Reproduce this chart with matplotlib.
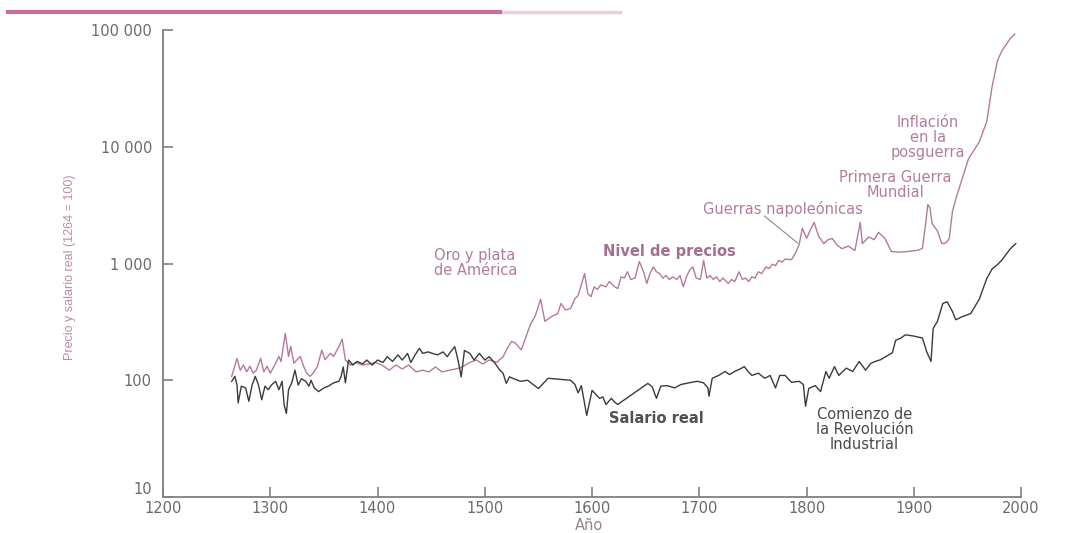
#!/usr/bin/env python3
"""Precio y salario real en Inglaterra, 1264-2000 (escala logaritmica)."""
import matplotlib
matplotlib.use("Agg")
import matplotlib.pyplot as plt
from matplotlib.lines import Line2D
from matplotlib.ticker import FixedLocator, NullLocator

# nivel de precios (1264 = 100)
price_years = [
    1264, 1269, 1272, 1275, 1278, 1281, 1284, 1287, 1291, 1294, 1297, 1300, 1305, 1308,
    1310, 1314, 1317, 1319, 1322, 1325, 1328, 1331, 1334, 1337, 1340, 1344, 1348, 1351,
    1356, 1359, 1364, 1367, 1370, 1375, 1380, 1386, 1392, 1398, 1404, 1411, 1417, 1423,
    1429, 1436, 1442, 1448, 1454, 1460, 1467, 1473, 1479, 1486, 1492, 1498, 1504, 1511,
    1517, 1521, 1525, 1528, 1534, 1540, 1543, 1547, 1552, 1556, 1562, 1568, 1571, 1575,
    1580, 1584, 1587, 1593, 1596, 1599, 1602, 1605, 1608, 1613, 1616, 1621, 1624, 1627,
    1630, 1633, 1636, 1640, 1644, 1648, 1651, 1654, 1657, 1660, 1663, 1666, 1669, 1672,
    1675, 1679, 1682, 1685, 1688, 1691, 1694, 1697, 1701, 1704, 1707, 1710, 1713, 1716,
    1719, 1722, 1727, 1730, 1733, 1737, 1740, 1743, 1746, 1749, 1752, 1755, 1758, 1762,
    1765, 1768, 1771, 1774, 1777, 1780, 1786, 1790, 1793, 1796, 1800, 1803, 1807, 1811,
    1816, 1820, 1824, 1828, 1833, 1839, 1845, 1850, 1852, 1858, 1863, 1867, 1873, 1879,
    1886, 1895, 1904, 1908, 1911, 1913, 1915, 1917, 1922, 1926, 1930, 1933, 1936, 1940,
    1945, 1951, 1961, 1968, 1973, 1978, 1982, 1990, 1994,
]
price_vals = [
    108, 154, 122, 135, 118, 132, 115, 122, 154, 118, 132, 115, 140, 160,
    145, 252, 160, 195, 140, 150, 160, 132, 115, 108, 115, 132, 181, 150,
    170, 160, 195, 225, 149, 135, 142, 135, 138, 142, 135, 122, 135, 125,
    135, 118, 122, 118, 130, 118, 122, 125, 130, 142, 149, 138, 149, 142,
    159, 188, 215, 210, 182, 260, 307, 355, 495, 320, 350, 373, 455, 400,
    412, 500, 532, 820, 555, 520, 632, 600, 655, 632, 700, 632, 610, 770,
    750, 850, 730, 750, 1040, 850, 675, 820, 935, 850, 820, 750, 790, 730,
    770, 730, 790, 632, 770, 880, 935, 750, 730, 1065, 750, 790, 730, 770,
    700, 750, 675, 730, 700, 850, 730, 750, 700, 770, 750, 850, 820, 935,
    905, 985, 960, 1065, 1030, 1090, 1080, 1250, 1450, 2000, 1640, 1900, 2250, 1730,
    1480, 1600, 1640, 1450, 1340, 1410, 1290, 2250, 1480, 1690, 1600, 1850, 1640, 1270,
    1250, 1270, 1300, 1350, 2200, 3200, 3000, 2200, 1900, 1480, 1500, 1640, 2800, 3800,
    5300, 7900, 11000, 16500, 33000, 55000, 66000, 85000, 92000,
]

# salario real (1264 = 100)
wage_years = [
    1264, 1267, 1269, 1270, 1273, 1277, 1280, 1283, 1286, 1289, 1292, 1295, 1298, 1301,
    1305, 1308, 1311, 1313, 1315, 1317, 1320, 1323, 1326, 1329, 1333, 1336, 1338, 1341,
    1345, 1350, 1354, 1359, 1364, 1366, 1368, 1370, 1373, 1377, 1381, 1386, 1390, 1395,
    1400, 1405, 1409, 1414, 1419, 1423, 1428, 1431, 1435, 1439, 1442, 1447, 1451, 1456,
    1461, 1465, 1468, 1472, 1475, 1478, 1481, 1486, 1490, 1495, 1500, 1504, 1509, 1514,
    1517, 1520, 1523, 1526, 1533, 1540, 1545, 1550, 1555, 1559, 1570, 1580, 1584, 1587,
    1590, 1595, 1600, 1604, 1607, 1610, 1613, 1618, 1621, 1624, 1627, 1652, 1656, 1660,
    1664, 1670, 1677, 1683, 1690, 1698, 1704, 1708, 1709, 1712, 1718, 1724, 1728, 1733,
    1738, 1742, 1745, 1749, 1755, 1761, 1766, 1771, 1775, 1780, 1786, 1793, 1797, 1799,
    1802, 1808, 1813, 1818, 1821, 1826, 1830, 1837, 1843, 1849, 1855, 1860, 1864, 1869,
    1874, 1880, 1883, 1888, 1892, 1899, 1908, 1912, 1916, 1918, 1922, 1927, 1931, 1936,
    1939, 1945, 1953, 1961, 1968, 1973, 1978, 1982, 1990, 1995,
]
wage_vals = [
    98, 108, 91, 64, 89, 86, 66, 91, 108, 91, 68, 89, 83, 91,
    98, 83, 98, 61, 52, 83, 95, 122, 91, 103, 98, 89, 100, 86,
    80, 86, 89, 95, 98, 108, 130, 95, 149, 135, 145, 138, 149, 135,
    149, 142, 159, 145, 165, 149, 170, 142, 165, 188, 170, 175, 170, 165,
    175, 159, 175, 194, 149, 107, 180, 170, 149, 170, 149, 159, 142, 122,
    115, 94, 107, 104, 98, 100, 92, 85, 95, 104, 102, 100, 92, 78,
    90, 50, 82, 75, 70, 72, 62, 70, 65, 62, 65, 94, 88, 70,
    89, 90, 86, 92, 95, 98, 95, 86, 73, 104, 110, 119, 112, 119,
    125, 131, 120, 110, 115, 104, 110, 86, 110, 110, 96, 98, 92, 60,
    85, 90, 80, 119, 104, 131, 110, 127, 119, 145, 122, 140, 145, 150,
    160, 172, 220, 230, 245, 240, 230, 175, 145, 278, 320, 455, 470, 388,
    330, 350, 373, 495, 745, 900, 980, 1070, 1340, 1480,
]

y_ticks = [10, 100, 1000, 10000, 100000]
y_tick_labels = ["10", "100", "1 000", "10 000", "100 000"]
x_ticks = list(range(1200, 2001, 100))

PINK = "#b47a9c"
PINK_TXT = "#b27d9d"
DARK = "#3b3b3b"
GRAY = "#6a6a6a"

plt.rcParams["font.family"] = ["DejaVu Sans"]

fig = plt.figure(figsize=(10.67, 5.33), dpi=100)
ax = fig.add_axes([0.1528, 0.0675, 0.8042, 0.8762])

ax.plot(price_years, price_vals, color=PINK, lw=1.0)
ax.plot(wage_years, wage_vals, color=DARK, lw=1.0)

ax.set_yscale("log")
ax.set_ylim(10, 100000)
ax.set_xlim(1200, 2000)
ax.yaxis.set_major_locator(FixedLocator(y_ticks))
ax.yaxis.set_minor_locator(NullLocator())
ax.set_yticklabels(y_tick_labels)
ax.set_xticks(x_ticks)

for side in ("top", "right"):
    ax.spines[side].set_visible(False)
for side in ("left", "bottom"):
    ax.spines[side].set_color("#808080")
    ax.spines[side].set_linewidth(1.3)
ax.tick_params(axis="both", direction="in", length=7, width=1.2, color="#808080",
               labelcolor=GRAY, labelsize=10.5)
ax.tick_params(axis="y", pad=8)
ax.tick_params(axis="x", pad=3)
# el "10" queda algo por encima del eje, como en el original
for lab in ax.get_yticklabels():
    if lab.get_text() == "10":
        lab.set_verticalalignment("bottom")

# anotaciones
ax.text(1453, 1010, "Oro y plata\nde América", color=PINK_TXT, fontsize=10.5,
        ha="left", va="center", linespacing=1.0)
ax.text(1672, 1256, "Nivel de precios", color="#a46f8f", fontsize=10.5,
        fontweight="bold", ha="center", va="center")
ax.text(1778, 2930, "Guerras napoleónicas", color=PINK_TXT, fontsize=10.5,
        ha="center", va="center")
ax.plot([1760.7, 1791.6], [2550, 1500], color="#8a8a8a", lw=0.8)
ax.text(1883, 4750, "Primera Guerra\nMundial", color=PINK_TXT, fontsize=10.5,
        ha="center", va="center", multialignment="center", linespacing=1.0)
ax.text(1913, 12100, "Inflación\nen la\nposguerra", color=PINK_TXT, fontsize=10.5,
        ha="center", va="center", multialignment="center", linespacing=1.0)
ax.text(1660, 47.5, "Salario real", color="#505050", fontsize=10.5,
        fontweight="bold", ha="center", va="center")
ax.text(1854, 38.2, "Comienzo de\nla Revolución\nIndustrial", color="#4a4a4a",
        fontsize=10.5, ha="center", va="center", multialignment="center",
        linespacing=1.0)

fig.text(70 / 1067, 1 - 267 / 533, "Precio y salario real (1264 = 100)",
         rotation=90, ha="center", va="center", color="#c08aa8", fontsize=9,
         family=["Liberation Sans Narrow", "Liberation Sans", "DejaVu Sans"])
fig.text(589 / 1067, 1 - 525 / 533, "Año", ha="center", va="center",
         color="#9a8290", fontsize=10.5)

# franja decorativa de la pagina
fig.add_artist(Line2D([8 / 1067, 500 / 1067], [1 - 11.5 / 533] * 2, color="#c7709f",
                      lw=3, transform=fig.transFigure))
fig.add_artist(Line2D([500 / 1067, 620 / 1067], [1 - 11.5 / 533] * 2, color="#c7709f",
                      lw=2.5, alpha=0.35, transform=fig.transFigure))

fig.savefig("out.png", dpi=100)
